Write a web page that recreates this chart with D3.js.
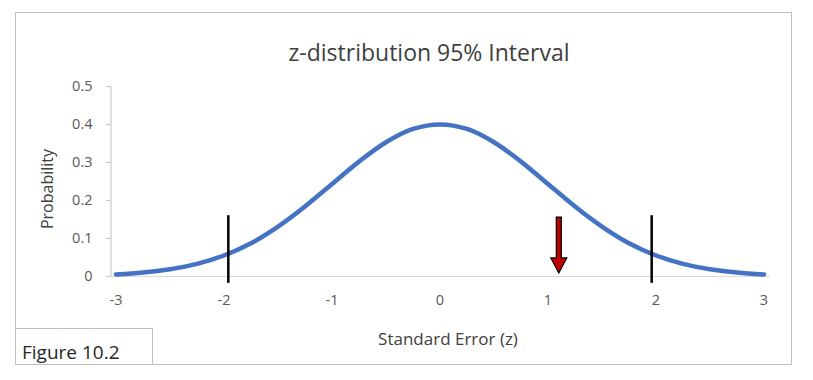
<!DOCTYPE html>
<html>
<head>
<meta charset="utf-8">
<script src="https://cdn.jsdelivr.net/npm/d3@7"></script>
<style>
  body { margin: 0; background: #fff; }
  text { font-family: "Open Sans", "Noto Sans", sans-serif; }
</style>
</head>
<body>
<div id="chart"></div>
<script>
// values
var zValues = [-3, -2.75, -2.5, -2.25, -2, -1.75, -1.5, -1.25, -1, -0.75, -0.5, -0.25,
               0, 0.25, 0.5, 0.75, 1, 1.25, 1.5, 1.75, 2, 2.25, 2.5, 2.75, 3];
var probValues = [0.004, 0.009, 0.018, 0.032, 0.054, 0.086, 0.130, 0.183, 0.242, 0.301, 0.352, 0.387,
                  0.399, 0.387, 0.352, 0.301, 0.242, 0.183, 0.130, 0.086, 0.054, 0.032, 0.018, 0.009, 0.004];
var xTicks = [-3, -2, -1, 0, 1, 2, 3];
var yTicks = [0, 0.1, 0.2, 0.3, 0.4, 0.5];
var criticalZ = [-1.96, 1.96];
var criticalSpan = [-0.018, 0.16];
var arrowZ = 1.1;
var arrowSpan = [0.155, 0.008];

var width = 813,
    height = 380;

var svg = d3.select("#chart")
  .append("svg")
    .attr("width", width)
    .attr("height", height);

// outer chart frame
svg.append("rect")
  .attr("x", 15.5).attr("y", 12.5)
  .attr("width", 776).attr("height", 352)
  .attr("fill", "#fff")
  .attr("stroke", "#bfbfbf");

var x = d3.scaleLinear().domain([-3, 3]).range([116, 764]);
var y = d3.scaleLinear().domain([0, 0.5]).range([276, 86]);

svg.append("text")
  .attr("x", 429).attr("y", 61)
  .attr("text-anchor", "middle")
  .attr("font-size", "23px")
  .attr("fill", "#404040")
  .text("z-distribution 95% Interval");

// y axis
var yAxis = d3.axisLeft(y)
  .tickValues(yTicks)
  .tickSize(4)
  .tickPadding(14)
  .tickFormat(function(d) { return d === 0 ? "0" : d3.format(".1f")(d); });

var yG = svg.append("g")
  .attr("transform", "translate(110.5,0)")
  .call(yAxis);
yG.select(".domain").attr("stroke", "#bfbfbf");
yG.selectAll(".tick line").attr("stroke", "#bfbfbf");
yG.selectAll(".tick text")
  .attr("font-size", "14.5px")
  .attr("fill", "#595959")
  .attr("font-family", "'Open Sans', sans-serif");

// x baseline
svg.append("line")
  .attr("x1", 110).attr("x2", 770)
  .attr("y1", y(0) + 0.5).attr("y2", y(0) + 0.5)
  .attr("stroke", "#d9d9d9");

svg.selectAll("text.xtick")
  .data(xTicks)
  .enter()
  .append("text")
    .attr("class", "xtick")
    .attr("x", function(d) { return x(d); })
    .attr("y", 305)
    .attr("text-anchor", "middle")
    .attr("font-size", "14.5px")
    .attr("fill", "#595959")
    .text(function(d) { return d; });

svg.append("text")
  .attr("transform", "translate(53,189) rotate(-90)")
  .attr("text-anchor", "middle")
  .attr("font-size", "16px")
  .attr("fill", "#404040")
  .text("Probability");

svg.append("text")
  .attr("x", 448).attr("y", 345)
  .attr("text-anchor", "middle")
  .attr("font-size", "17px")
  .attr("fill", "#404040")
  .text("Standard Error (z)");

// curve
var points = zValues.map(function(z, i) { return [z, probValues[i]]; });
var line = d3.line()
  .x(function(d) { return x(d[0]); })
  .y(function(d) { return y(d[1]); })
  .curve(d3.curveCatmullRom);

svg.append("path")
  .datum(points)
  .attr("d", line)
  .attr("fill", "none")
  .attr("stroke", "#4472c4")
  .attr("stroke-width", 4.5)
  .attr("stroke-linecap", "round");

// critical value lines
svg.selectAll("line.crit")
  .data(criticalZ)
  .enter()
  .append("line")
    .attr("class", "crit")
    .attr("x1", function(d) { return x(d); })
    .attr("x2", function(d) { return x(d); })
    .attr("y1", y(criticalSpan[1]))
    .attr("y2", y(criticalSpan[0]))
    .attr("stroke", "#000")
    .attr("stroke-width", 2.5);

// red arrow
var ax = x(arrowZ),
    aTop = y(arrowSpan[0]),
    aTip = y(arrowSpan[1]),
    headLen = 15,
    shaftW = 2.5,
    headW = 8;
var arrowPath = d3.path();
arrowPath.moveTo(ax - shaftW, aTop);
arrowPath.lineTo(ax + shaftW, aTop);
arrowPath.lineTo(ax + shaftW, aTip - headLen);
arrowPath.lineTo(ax + headW, aTip - headLen);
arrowPath.lineTo(ax, aTip);
arrowPath.lineTo(ax - headW, aTip - headLen);
arrowPath.lineTo(ax - shaftW, aTip - headLen);
arrowPath.closePath();
svg.append("path")
  .attr("d", arrowPath.toString())
  .attr("fill", "#c00000")
  .attr("stroke", "#000")
  .attr("stroke-width", 1.2)
  .attr("stroke-linejoin", "miter");

// figure label box
svg.append("rect")
  .attr("x", 15.5).attr("y", 328.5)
  .attr("width", 137).attr("height", 36)
  .attr("fill", "#fff")
  .attr("stroke", "#bfbfbf");

svg.append("text")
  .attr("x", 22).attr("y", 359)
  .attr("font-size", "19px")
  .attr("fill", "#262626")
  .text("Figure 10.2");
</script>
</body>
</html>
